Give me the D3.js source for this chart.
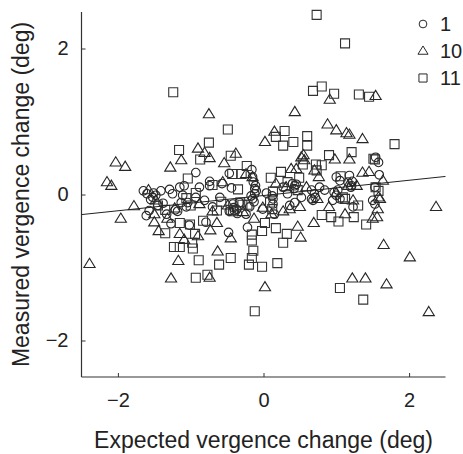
<!DOCTYPE html>
<html>
<head>
<meta charset="utf-8">
<script src="https://cdn.jsdelivr.net/npm/d3@7"></script>
<style>
  html, body { margin: 0; padding: 0; background: #fff; }
  svg { display: block; }
  text { font-family: "Liberation Sans", Arial, Helvetica, sans-serif; fill: #222; }
</style>
</head>
<body>
<svg id="chart" width="463" height="454"></svg>
<script>
// Expected vs. measured vergence change for three subjects (1, 10, 11)
const seriesNames = ["1", "10", "11"];

// Subject 1 (circles): [expected, measured]
const subject1 = [
  [-1.65, 0.05], [-1.60, 0.01], [-1.51, 0.02], [-1.48, -0.01], [-1.55, -0.07],
  [-1.61, -0.29], [-1.57, -0.22], [-1.45, -0.15], [-1.38, -0.12], [-1.29, 0.07],
  [-1.25, 0.01], [-1.15, 0.10], [-1.09, 0.12], [-0.93, 0.30], [-1.21, -0.21],
  [-1.18, -0.23], [-1.27, -0.40], [-1.02, -0.42], [-1.13, -0.11], [-1.04, -0.11],
  [-0.74, 0.18], [-0.74, 0.12], [-0.81, -0.08], [-0.70, -0.17], [-0.79, -0.38],
  [-0.47, 0.29], [-0.44, 0.09], [-0.57, 0.15], [-0.48, -0.52], [-0.42, -0.13],
  [-0.37, -0.20], [-0.40, -0.22], [-0.47, -0.23], [-0.22, -0.45], [-0.16, 0.34],
  [-0.15, 0.24], [-0.14, 0.17], [-0.12, 0.08], [-0.12, 0.01], [-0.15, -0.06],
  [-0.19, -0.17], [-0.24, -0.27], [0.04, 0.02], [0.13, -0.06], [0.13, -0.13],
  [0.15, -0.27], [0.27, 0.10], [0.33, 0.01], [0.40, 0.15], [0.43, 0.12],
  [0.43, -0.11], [0.36, -0.15], [0.66, 0.06], [0.68, -0.08], [0.70, 0.01],
  [0.66, -0.06], [0.77, 0.10], [1.00, 0.24], [1.05, 0.19], [1.02, 0.06],
  [1.00, -0.01], [1.05, -0.06], [1.18, 0.26], [1.21, 0.12], [1.23, -0.17],
  [1.54, 0.51], [1.58, 0.44], [1.59, 0.27], [1.53, 0.10], [1.50, -0.08],
  [1.53, -0.13], [0.95, -0.08], [0.84, 0.06], [-0.01, -0.20], [-0.33, -0.11],
  [-0.60, -0.04], [-0.93, -0.04], [-1.06, -0.17], [-1.33, -0.27], [-1.41, 0.05],
  [-0.88, 0.10], [-1.11, -0.01], [0.52, -0.04], [1.16, 0.17], [-0.10, 0.05],
  [-0.17, -0.02], [0.12, -0.02], [0.45, 0.14], [1.20, 0.10], [-0.41, -0.18],
  [-0.11, 0.12], [-0.13, -0.10], [0.42, 0.08], [0.97, 0.03], [-0.36, -0.26],
  [1.22, 0.18], [-1.52, -0.04], [0.71, -0.04]
];

// Subject 10 (triangles)
const subject10 = [
  [-2.39, -0.95], [-2.03, 0.44], [-1.90, 0.38], [-2.15, 0.17], [-2.09, 0.12],
  [-1.96, -0.33], [-1.78, -0.16], [-1.27, -1.15], [-1.17, -0.91], [-0.75, 1.10],
  [-0.90, 0.63], [-0.81, 0.57], [-1.13, 0.47], [-1.28, 0.37], [-0.74, 0.50],
  [-0.54, 0.43], [-0.38, 0.56], [0.43, 1.13], [0.91, 1.30], [1.54, 1.35],
  [0.88, 0.96], [1.00, 0.88], [1.14, 0.84], [1.18, 0.82], [1.36, 0.76],
  [0.15, 0.86], [0.02, 0.72], [0.55, 0.54], [0.98, 0.48], [1.18, 0.48],
  [0.45, 0.35], [0.70, 0.33], [0.76, 0.24], [1.36, 0.30], [1.45, 0.31],
  [1.64, 0.19], [2.37, -0.17], [1.65, -0.69], [2.01, -0.86], [1.69, -1.23],
  [1.22, -1.15], [1.40, -1.15], [2.27, -1.61], [0.02, -1.27], [-0.74, -1.14],
  [-0.63, -0.78], [-0.45, -0.60], [-0.64, -0.39], [-0.73, -0.49], [-0.90, -0.57],
  [-1.15, -0.54], [-1.09, -0.62], [-1.50, -0.38], [-1.44, -0.50], [-1.50, -0.27],
  [-1.58, 0.06], [0.47, -0.44], [0.51, -0.59], [0.69, -0.39], [1.12, -0.27],
  [1.57, -0.20], [1.56, -0.31], [1.50, -0.33], [1.58, -0.04], [-0.13, -0.33],
  [-0.01, -0.18], [0.27, -0.23], [0.36, -0.20], [0.17, 0.15], [0.59, 0.10],
  [0.31, 0.10], [0.50, -0.17], [0.11, -0.27], [-0.56, 0.17], [-0.88, -0.13],
  [-1.32, -0.33], [-1.22, -0.19], [-1.48, -0.08], [1.28, 0.12], [1.16, 0.12],
  [1.00, 0.02], [1.60, -0.06], [0.74, -0.06], [0.90, -0.17], [-0.28, -0.24],
  [-0.49, -0.15], [-0.70, -0.23], [0.38, 0.35], [-0.24, 0.28], [-0.15, 0.24],
  [0.56, 0.47], [0.52, 0.51], [1.23, -0.08]
];

// Subject 11 (squares)
const subject11 = [
  [0.73, 2.46], [1.12, 2.07], [-1.24, 1.40], [0.68, 1.42], [0.80, 1.48],
  [0.97, 1.38], [1.31, 1.37], [1.45, 1.34], [-0.49, 0.89], [0.29, 0.87],
  [0.17, 0.79], [0.60, 0.80], [0.41, 0.72], [0.27, 0.67], [0.60, 0.67],
  [-0.75, 0.71], [-1.16, 0.61], [1.80, 0.69], [0.90, 0.54], [1.21, 0.58],
  [-0.45, 0.53], [-0.87, 0.48], [-0.23, 0.39], [-0.30, 0.28], [-0.43, 0.28],
  [-1.04, 0.22], [0.10, 0.23], [0.24, 0.31], [0.72, 0.41], [1.51, 0.49],
  [-0.93, 0.02], [-0.35, 0.07], [-0.70, 0.13], [1.12, -0.06], [1.30, -0.15],
  [0.80, -0.28], [0.93, -0.31], [1.03, -0.37], [1.24, -0.31], [1.41, -0.41],
  [0.02, -0.39], [0.17, -0.46], [0.32, -0.54], [0.27, -0.66], [-0.02, -0.50],
  [-0.16, -0.55], [-0.16, -0.63], [-0.14, -0.77], [-0.16, -0.87], [-0.20, -0.96],
  [-0.02, -0.99], [0.19, -0.94], [-0.45, -0.87], [-0.61, -0.96], [-0.89, -0.90],
  [-0.93, -1.14], [-0.77, -1.10], [-0.12, -1.60], [1.05, -1.28], [1.37, -1.44],
  [-1.15, -0.72], [-1.23, -0.72], [-0.97, -0.74], [-0.98, -0.66], [-1.35, -0.53],
  [-0.94, -0.54], [-1.01, -0.41], [-1.15, -0.39], [-0.83, -0.36], [-0.64, -0.22],
  [-0.42, -0.23], [-0.29, -0.14], [-0.22, -0.14], [-0.32, -0.11], [0.12, -0.20],
  [0.09, -0.11], [-0.45, -0.21], [-1.45, -0.15], [-1.35, -0.21], [-1.00, -0.15],
  [-1.06, -0.05], [-0.58, -0.10], [0.13, 0.04], [1.09, -0.04], [1.54, 0.10],
  [1.58, 0.05], [0.49, 0.23], [0.80, 0.40], [0.73, 0.33], [0.54, 0.41],
  [1.06, 0.25], [0.47, 0.06], [0.33, 0.17], [1.53, 0.48]
];

// Linear fit across all subjects: [slope, intercept]
const fitCoefficients = [0.1045, -0.014];

const xTicks = [-2, 0, 2];
const yTicks = [-2, 0, 2];
const xDomain = [-2.5, 2.5];
const yDomain = [-2.5, 2.5];

const svg = d3.select("#chart");
const plotLeft = 81.5, plotRight = 445.5, plotTop = 12, plotBottom = 377;

const x = d3.scaleLinear().domain(xDomain).range([plotLeft, plotRight]);
const y = d3.scaleLinear().domain(yDomain).range([plotBottom, plotTop]);

const ink = "#262626";

// marker shapes, centred on the data point
const shapes = {
  circle: "M4.3,0A4.3,4.3,0,1,1,-4.3,0A4.3,4.3,0,1,1,4.3,0Z",
  triangle: "M0,-5.6L5.6,3.6L-5.6,3.6Z",
  square: "M-4.5,-4.5H4.5V4.5H-4.5Z"
};
const seriesShapes = ["circle", "triangle", "square"];
const seriesData = [subject1, subject10, subject11];

const fmt = d => d < 0 ? "\u2212" + Math.abs(d) : String(d);

// axes with inward ticks
const xAxis = d3.axisBottom(x).tickValues(xTicks).tickSize(-4).tickPadding(10).tickFormat(fmt);
const yAxis = d3.axisLeft(y).tickValues(yTicks).tickSize(-4).tickPadding(10).tickFormat(fmt);

const gx = svg.append("g").attr("transform", `translate(0,${plotBottom})`).call(xAxis);
const gy = svg.append("g").attr("transform", `translate(${plotLeft},0)`).call(yAxis);

[gx, gy].forEach(g => {
  g.select(".domain").attr("stroke", "#333").attr("stroke-width", 1.2);
  g.selectAll(".tick line").attr("stroke", "#333").attr("stroke-width", 1);
  g.selectAll(".tick text").attr("font-size", 20)
    .attr("font-family", "Liberation Sans, Arial, sans-serif").attr("fill", "#222");
});
// plain axis spines without end caps
gx.select(".domain").attr("d", `M${plotLeft},0H${plotRight}`);
gy.select(".domain").attr("d", `M0,${plotTop}V${plotBottom}`);
gx.selectAll(".tick text").attr("dy", "1em");
gy.selectAll(".tick text").attr("dx", "-3");

// data markers
const marks = svg.append("g");
seriesData.forEach((pts, i) => {
  marks.append("g").selectAll("path")
    .data(pts)
    .join("path")
    .attr("d", shapes[seriesShapes[i]])
    .attr("transform", d => `translate(${x(d[0])},${y(d[1])})`)
    .attr("fill", "none")
    .attr("stroke", i === 2 ? "#333" : ink)
    .attr("stroke-width", 1.1);
});

// regression line over the full x range
const fit = xDomain.map(v => [v, fitCoefficients[0] * v + fitCoefficients[1]]);
svg.append("path")
  .attr("d", d3.line().x(d => x(d[0])).y(d => y(d[1]))(fit))
  .attr("fill", "none")
  .attr("stroke", "#222")
  .attr("stroke-width", 1);

// legend
const legend = svg.append("g");
seriesNames.forEach((name, i) => {
  const cy = 24 + i * 27;
  legend.append("path")
    .attr("d", shapes[seriesShapes[i]])
    .attr("transform", `translate(423,${cy}) scale(0.9)`)
    .attr("fill", "none").attr("stroke", ink).attr("stroke-width", 1.1);
  legend.append("text")
    .attr("x", 440).attr("y", cy).attr("dy", "0.36em")
    .attr("font-size", 20).text(name);
});

// axis titles
svg.append("text")
  .attr("x", (plotLeft + plotRight) / 2).attr("y", 448)
  .attr("text-anchor", "middle").attr("font-size", 23)
  .text("Expected vergence change (deg)");

svg.append("text")
  .attr("transform", `translate(28.5,${(plotTop + plotBottom) / 2}) rotate(-90)`)
  .attr("text-anchor", "middle").attr("font-size", 23)
  .text("Measured vergence change (deg)");
</script>
</body>
</html>
